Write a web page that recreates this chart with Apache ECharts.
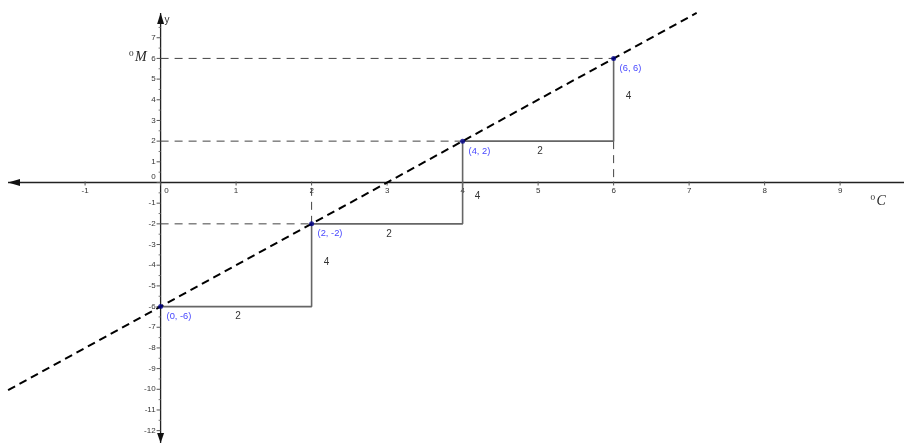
<!DOCTYPE html>
<html><head><meta charset="utf-8">
<script src="https://cdn.jsdelivr.net/npm/echarts@6/dist/echarts.min.js"></script>
<style>html,body{margin:0;padding:0;background:#fff}#c{width:904px;height:443px}</style>
</head><body><div id="c"></div>
<script>
// ---- data ----
const xTicks = [-1, 0, 1, 2, 3, 4, 5, 6, 7, 8, 9];
const yTicks = [-12, -11, -10, -9, -8, -7, -6, -5, -4, -3, -2, -1, 0, 1, 2, 3, 4, 5, 6, 7];
const points = [[0, -6], [2, -2], [4, 2], [6, 6]];
const pointLabels = ['(0, -6)', '(2, -2)', '(4, 2)', '(6, 6)'];
const lineEnds = [[-2.02, -10.04], [7.1, 8.2]];
const stairs = [[0, -6], [2, -6], [2, -2], [4, -2], [4, 2], [6, 2], [6, 6]];
const guideSegs = [[0, 6, 6, 6], [0, 2, 4, 2], [0, -2, 2, -2], [2, -2, 2, 0], [6, 2, 6, 0]];
const runLabels = [[1, -6, '2'], [3, -2, '2'], [5, 2, '2']];
const riseLabels = [[2, -3.84, '4'], [4, -0.65, '4'], [6, 4.18, '4']];
const xRange = [-2.127, 9.846];
const yRange = [-12.597, 8.825];

const chart = echarts.init(document.getElementById('c'), null, {renderer: 'canvas'});
const tickColor = '#333';
const tickFont = '8px Arial, "Liberation Sans", sans-serif';

function axesRender(params, api) {
  const o = api.coord([0, 0]);
  const left = api.coord([xRange[0], 0]);
  const right = api.coord([xRange[1], 0]);
  const top = api.coord([0, yRange[1]]);
  const bot = api.coord([0, yRange[0]]);
  const children = [];
  const axStyle = {stroke: '#222', lineWidth: 1.3};
  children.push({type: 'line', shape: {x1: left[0] + 8, y1: o[1], x2: right[0], y2: o[1]}, style: axStyle});
  children.push({type: 'line', shape: {x1: o[0], y1: top[1] + 13, x2: o[0], y2: bot[1]}, style: axStyle});
  // arrows
  children.push({type: 'polygon', shape: {points: [[left[0] + 8, o[1]], [left[0] + 20, o[1] - 3.5], [left[0] + 20, o[1] + 3.5]]}, style: {fill: '#111'}});
  children.push({type: 'polygon', shape: {points: [[o[0], top[1] + 13], [o[0] - 3.5, top[1] + 24], [o[0] + 3.5, top[1] + 24]]}, style: {fill: '#111'}});
  children.push({type: 'polygon', shape: {points: [[o[0], bot[1]], [o[0] - 3.5, bot[1] - 10], [o[0] + 3.5, bot[1] - 10]]}, style: {fill: '#111'}});
  // x ticks
  xTicks.forEach(v => {
    const p = api.coord([v, 0]);
    children.push({type: 'line', shape: {x1: p[0], y1: o[1] - 1, x2: p[0], y2: o[1] + 3}, style: {stroke: '#555', lineWidth: 1}});
    children.push({type: 'text', x: v === 0 ? p[0] + 6 : p[0], y: o[1] + 8,
      style: {text: String(v), font: tickFont, fill: tickColor, align: 'center', verticalAlign: 'middle'}});
  });
  // y ticks (major + half minor)
  yTicks.forEach(v => {
    const p = api.coord([0, v]);
    children.push({type: 'line', shape: {x1: o[0] - 4, y1: p[1], x2: o[0], y2: p[1]}, style: {stroke: '#555', lineWidth: 1}});
    const m = api.coord([0, v + 0.5]);
    if (v + 0.5 < yRange[1] - 0.6) children.push({type: 'line', shape: {x1: o[0] - 2, y1: m[1], x2: o[0], y2: m[1]}, style: {stroke: '#777', lineWidth: 1}});
    children.push({type: 'text', x: o[0] - 5, y: v === 0 ? p[1] - 6 : p[1],
      style: {text: String(v), font: tickFont, fill: tickColor, align: 'right', verticalAlign: 'middle'}});
  });
  // axis names
  children.push({type: 'text', x: o[0] + 4, y: top[1] + 20, style: {text: 'y', font: '10px Arial, sans-serif', fill: '#333', align: 'left', verticalAlign: 'middle'}});
  const m6 = api.coord([0, 6]);
  children.push({type: 'text', x: o[0] - 14, y: m6[1] - 1, style: {
    text: '{s|0}{b|M}', align: 'right', verticalAlign: 'middle',
    rich: {s: {font: '8px "DejaVu Serif", serif', fill: '#333', verticalAlign: 'top', padding: [0, 1, 6, 0]},
           b: {font: 'italic 14px "Liberation Serif", "DejaVu Serif", serif', fill: '#222'}}}});
  const c9 = api.coord([9.4, -0.9]);
  children.push({type: 'text', x: c9[0], y: c9[1], style: {
    text: '{s|0}{b|C}', align: 'left', verticalAlign: 'middle',
    rich: {s: {font: '8px "DejaVu Serif", serif', fill: '#333', padding: [0, 1, 6, 0]},
           b: {font: 'italic 14px "Liberation Serif", "DejaVu Serif", serif', fill: '#222'}}}});
  return {type: 'group', children};
}

const option = {
  animation: false,
  backgroundColor: '#fff',
  grid: {left: 0, right: 0, top: 0, bottom: 0},
  xAxis: {type: 'value', min: xRange[0], max: xRange[1], show: false},
  yAxis: {type: 'value', min: yRange[0], max: yRange[1], show: false},
  series: [
    {type: 'custom', data: [[0, 0]], renderItem: axesRender, silent: true, clip: false, z: 1},
    {type: 'custom', data: guideSegs, silent: true, z: 2, renderItem: (params, api) => {
      const a = api.coord([api.value(0), api.value(1)]);
      const b = api.coord([api.value(2), api.value(3)]);
      return {type: 'line', shape: {x1: a[0], y1: a[1], x2: b[0], y2: b[1]},
        style: {stroke: '#444', lineWidth: 1, lineDash: [8, 6]}};
    }},
    {type: 'line', data: stairs, symbol: 'none', z: 3, lineStyle: {color: '#666', width: 1.6}},
    {type: 'line', data: lineEnds, symbol: 'none', z: 4, lineStyle: {color: '#000', width: 2, type: [8, 5]}},
    {type: 'scatter', data: points, symbol: 'circle', symbolSize: 5, z: 5, itemStyle: {color: '#00008b'}},
    {type: 'custom', data: points.map((p, i) => [p[0], p[1], pointLabels[i]]), silent: true, z: 6, renderItem: (params, api) => {
      const p = api.coord([api.value(0), api.value(1)]);
      return {type: 'text', x: p[0] + 6, y: p[1] + 10, style: {text: pointLabels[params.dataIndex],
        font: '9.3px Arial, "Liberation Sans", sans-serif', fill: '#4646ff', align: 'left', verticalAlign: 'middle'}};
    }},
    {type: 'custom', data: runLabels, silent: true, z: 6, renderItem: (params, api) => {
      const p = api.coord([api.value(0), api.value(1)]);
      return {type: 'text', x: p[0] + 2, y: p[1] + 10, style: {text: runLabels[params.dataIndex][2],
        font: '10px Arial, "Liberation Sans", sans-serif', fill: '#333', align: 'center', verticalAlign: 'middle'}};
    }},
    {type: 'custom', data: riseLabels, silent: true, z: 6, renderItem: (params, api) => {
      const p = api.coord([api.value(0), api.value(1)]);
      return {type: 'text', x: p[0] + 15, y: p[1], style: {text: riseLabels[params.dataIndex][2],
        font: '10px Arial, "Liberation Sans", sans-serif', fill: '#333', align: 'center', verticalAlign: 'middle'}};
    }}
  ]
};
chart.setOption(option);
</script>
</body></html>
